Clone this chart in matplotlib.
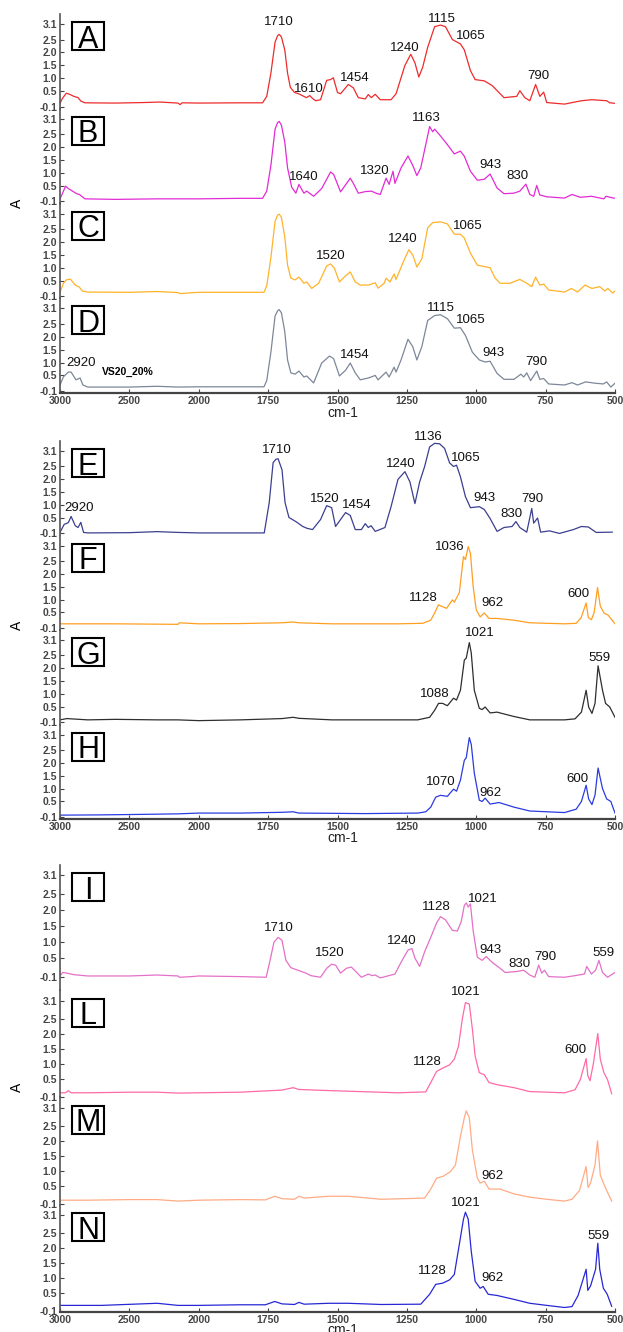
import numpy as np
import matplotlib
matplotlib.use('Agg')
import matplotlib.pyplot as plt
from matplotlib.patches import Rectangle

plt.rcParams['font.family'] = ['Liberation Sans', 'DejaVu Sans']

# (wavenumber cm-1, absorbance)
A_spec = [(3000, 0.02), (2985, 0.2), (2955, 0.42), (2930, 0.38), (2900, 0.3), (2870, 0.25), (2850, 0.12),
          (2820, 0.05), (2600, 0.04), (2400, 0.06), (2280, 0.08), (2150, 0.04), (2135, -0.02), (2120, 0.05),
          (2000, 0.04), (1850, 0.05), (1770, 0.05), (1755, 0.3), (1740, 1.2), (1725, 2.4), (1716, 2.65),
          (1710, 2.7), (1702, 2.6), (1690, 2.1), (1680, 1.2), (1670, 0.65), (1655, 0.45), (1640, 0.4),
          (1625, 0.32), (1612, 0.25), (1600, 0.33), (1590, 0.22), (1579, 0.13), (1561, 0.17), (1539, 0.92),
          (1525, 0.95), (1515, 1.02), (1500, 0.45), (1489, 0.4), (1461, 0.76), (1443, 0.63), (1425, 0.25),
          (1400, 0.2), (1389, 0.37), (1378, 0.25), (1364, 0.38), (1346, 0.17), (1307, 0.17), (1289, 0.4),
          (1257, 1.5), (1236, 1.93), (1221, 1.6), (1207, 1.05), (1193, 1.43), (1175, 2.2), (1150, 3.0),
          (1129, 3.06), (1111, 3.0), (1086, 2.5), (1057, 2.33), (1043, 2.1), (1021, 1.3), (1004, 0.95),
          (971, 0.9), (943, 0.72), (900, 0.25), (854, 0.3), (843, 0.52), (825, 0.25), (807, 0.13),
          (786, 0.76), (771, 0.3), (757, 0.46), (746, 0.06), (682, 0.0), (621, 0.13), (583, 0.17),
          (530, 0.13), (519, 0.05), (500, 0.03)]
B_spec = [(3000, 0.0), (2975, 0.3), (2960, 0.49), (2940, 0.4), (2910, 0.3), (2880, 0.2), (2860, 0.17),
          (2820, 0.0), (2600, -0.02), (2300, 0.0), (2150, 0.0), (2000, 0.0), (1850, 0.02), (1770, 0.02),
          (1755, 0.3), (1740, 1.3), (1725, 2.7), (1716, 2.95), (1710, 3.0), (1702, 2.85), (1690, 2.2),
          (1680, 1.2), (1665, 0.45), (1650, 0.22), (1639, 0.56), (1621, 0.22), (1611, 0.3), (1586, 0.1),
          (1557, 0.4), (1525, 1.04), (1514, 0.95), (1489, 0.27), (1454, 0.8), (1443, 0.6), (1425, 0.22),
          (1400, 0.28), (1378, 0.3), (1361, 0.22), (1346, 0.17), (1325, 0.8), (1314, 0.56), (1300, 1.07),
          (1293, 0.6), (1271, 1.2), (1246, 1.66), (1229, 1.3), (1214, 0.9), (1200, 1.2), (1182, 2.1),
          (1168, 2.8), (1157, 2.6), (1150, 2.7), (1129, 2.44), (1104, 2.1), (1079, 1.74), (1057, 1.85),
          (1043, 1.65), (1021, 1.07), (996, 0.72), (971, 0.76), (950, 0.96), (925, 0.42), (900, 0.2),
          (864, 0.22), (843, 0.3), (821, 0.57), (807, 0.17), (793, 0.1), (782, 0.52), (771, 0.15),
          (746, 0.08), (682, 0.03), (655, 0.17), (625, 0.06), (585, 0.1), (540, 0.0), (533, 0.1),
          (505, 0.03), (500, 0.03)]
C_spec = [(3000, 0.05), (2975, 0.4), (2955, 0.53), (2925, 0.56), (2890, 0.33), (2860, 0.25), (2840, 0.1),
          (2800, 0.06), (2500, 0.05), (2300, 0.08), (2150, 0.04), (2135, 0.0), (2000, 0.05), (1850, 0.05),
          (1765, 0.05), (1755, 0.3), (1740, 1.4), (1725, 2.8), (1716, 3.04), (1710, 3.08), (1702, 2.95),
          (1690, 2.2), (1680, 1.1), (1668, 0.6), (1653, 0.53), (1639, 0.64), (1621, 0.4), (1611, 0.45),
          (1593, 0.2), (1568, 0.4), (1539, 1.07), (1525, 1.15), (1511, 0.98), (1493, 0.45), (1475, 0.65),
          (1454, 0.84), (1436, 0.45), (1418, 0.33), (1389, 0.33), (1364, 0.42), (1354, 0.21), (1332, 0.4),
          (1325, 0.6), (1311, 0.45), (1296, 0.76), (1289, 0.55), (1264, 1.2), (1243, 1.7), (1229, 1.5),
          (1214, 1.03), (1196, 1.35), (1175, 2.55), (1157, 2.75), (1129, 2.78), (1104, 2.7), (1079, 2.3),
          (1057, 2.3), (1043, 2.15), (1021, 1.57), (996, 1.1), (971, 1.05), (950, 1.0), (932, 0.6),
          (914, 0.4), (879, 0.4), (843, 0.55), (818, 0.4), (800, 0.27), (786, 0.64), (771, 0.33),
          (757, 0.37), (739, 0.14), (682, 0.06), (657, 0.2), (635, 0.06), (608, 0.33), (583, 0.2),
          (555, 0.27), (537, 0.1), (526, 0.2), (508, 0.02), (500, 0.1)]
D_spec = [(3000, 0.13), (2975, 0.45), (2940, 0.63), (2920, 0.63), (2885, 0.33), (2855, 0.4), (2835, 0.13),
          (2800, 0.05), (2500, 0.05), (2300, 0.08), (2150, 0.05), (2000, 0.06), (1850, 0.06), (1765, 0.06),
          (1755, 0.3), (1740, 1.4), (1725, 2.8), (1716, 3.0), (1710, 3.05), (1702, 2.92), (1690, 2.2),
          (1680, 1.1), (1668, 0.6), (1653, 0.55), (1639, 0.67), (1621, 0.44), (1611, 0.48), (1586, 0.21),
          (1557, 0.98), (1529, 1.25), (1514, 1.15), (1493, 0.48), (1471, 0.7), (1454, 0.98), (1436, 0.6),
          (1418, 0.33), (1389, 0.4), (1364, 0.5), (1354, 0.33), (1325, 0.63), (1314, 0.44), (1296, 0.82),
          (1289, 0.63), (1271, 1.1), (1246, 1.9), (1229, 1.62), (1214, 1.1), (1196, 1.62), (1175, 2.63),
          (1150, 2.82), (1129, 2.85), (1104, 2.7), (1079, 2.33), (1057, 2.35), (1039, 2.05), (1014, 1.4),
          (989, 1.1), (968, 1.02), (950, 1.05), (925, 0.58), (900, 0.35), (864, 0.35), (839, 0.55),
          (829, 0.44), (818, 0.6), (804, 0.3), (782, 0.67), (771, 0.35), (757, 0.38), (739, 0.17),
          (682, 0.13), (655, 0.22), (635, 0.13), (606, 0.25), (572, 0.2), (542, 0.17), (530, 0.25),
          (515, 0.05), (500, 0.2)]
E_spec = [(3000, -0.06), (2970, 0.25), (2940, 0.32), (2920, 0.56), (2890, 0.2), (2870, 0.13), (2850, 0.33),
          (2830, -0.06), (2800, -0.08), (2500, -0.07), (2300, -0.03), (2150, -0.06), (2000, -0.08),
          (1850, -0.08), (1764, -0.08), (1746, 1.1), (1732, 2.65), (1722, 2.78), (1714, 2.8), (1700, 2.37),
          (1689, 1.1), (1675, 0.52), (1650, 0.36), (1625, 0.17), (1610, 0.1), (1590, 0.05), (1561, 0.44),
          (1539, 0.98), (1521, 0.9), (1507, 0.17), (1489, 0.44), (1471, 0.71), (1454, 0.6), (1436, 0.05),
          (1414, 0.05), (1400, 0.28), (1389, 0.13), (1379, 0.2), (1364, -0.02), (1329, 0.13), (1307, 0.94),
          (1282, 2.0), (1257, 2.3), (1239, 1.9), (1221, 1.06), (1204, 1.9), (1186, 2.5), (1168, 3.26),
          (1150, 3.4), (1132, 3.38), (1114, 3.2), (1096, 2.64), (1082, 2.5), (1071, 2.55), (1057, 2.1),
          (1039, 1.33), (1021, 0.9), (989, 0.94), (971, 0.83), (950, 0.48), (925, -0.02), (900, 0.13),
          (871, 0.17), (857, 0.36), (843, 0.13), (818, -0.05), (800, 0.87), (793, 0.3), (779, 0.5),
          (768, -0.05), (736, 0.0), (700, -0.1), (650, 0.05), (621, 0.17), (596, 0.15), (568, -0.06),
          (510, -0.05)]
F_spec = [(3000, 0.06), (2600, 0.06), (2150, 0.04), (2140, 0.1), (2000, 0.06), (1850, 0.07), (1700, 0.1),
          (1660, 0.13), (1639, 0.1), (1521, 0.06), (1282, 0.06), (1193, 0.08), (1164, 0.2), (1150, 0.48),
          (1136, 0.8), (1125, 0.74), (1107, 0.66), (1086, 0.99), (1079, 0.9), (1061, 1.27), (1046, 2.67),
          (1039, 2.55), (1029, 3.06), (1021, 2.8), (1011, 1.5), (1000, 0.6), (986, 0.33), (971, 0.48),
          (954, 0.27), (925, 0.27), (864, 0.2), (807, 0.1), (682, 0.06), (640, 0.08), (622, 0.3),
          (604, 0.87), (596, 0.3), (585, 0.22), (575, 0.5), (563, 1.47), (553, 0.75), (540, 0.48),
          (525, 0.4), (500, 0.06)]
G_spec = [(3000, 0.0), (2950, 0.05), (2800, 0.0), (2600, 0.02), (2300, 0.0), (2150, 0.0), (2000, -0.03),
          (1850, 0.0), (1700, 0.05), (1660, 0.1), (1639, 0.06), (1521, 0.0), (1211, 0.0), (1168, 0.1),
          (1150, 0.37), (1136, 0.64), (1121, 0.64), (1104, 0.55), (1082, 0.84), (1071, 0.77), (1057, 1.15),
          (1043, 2.32), (1036, 2.4), (1025, 3.0), (1018, 2.6), (1007, 1.15), (989, 0.45), (979, 0.4),
          (968, 0.5), (950, 0.27), (925, 0.3), (864, 0.13), (807, 0.0), (682, 0.0), (644, 0.04),
          (621, 0.3), (604, 1.15), (595, 0.5), (583, 0.25), (572, 0.64), (561, 2.1), (545, 1.15),
          (534, 0.64), (519, 0.5), (500, 0.1)]
H_spec = [(3000, -0.03), (2700, -0.02), (2400, 0.0), (2150, 0.02), (2000, 0.05), (1850, 0.05), (1700, 0.08),
          (1660, 0.1), (1639, 0.05), (1400, 0.03), (1211, 0.05), (1182, 0.1), (1164, 0.28), (1146, 0.67),
          (1129, 0.74), (1104, 0.7), (1082, 0.98), (1071, 0.9), (1057, 1.33), (1043, 2.1), (1036, 2.2),
          (1025, 2.98), (1018, 2.72), (1007, 1.6), (989, 0.55), (979, 0.5), (968, 0.63), (950, 0.4),
          (918, 0.46), (864, 0.28), (807, 0.13), (682, 0.07), (640, 0.2), (621, 0.5), (604, 1.13),
          (595, 0.6), (583, 0.38), (572, 0.75), (561, 1.8), (545, 1.0), (530, 0.6), (515, 0.5), (500, 0.05)]
I_spec = [(3000, -0.05), (2980, 0.05), (2950, 0.03), (2900, -0.02), (2800, -0.06), (2500, -0.06),
          (2300, -0.03), (2150, -0.06), (2140, -0.1), (2050, -0.08), (2000, -0.06), (1850, -0.08),
          (1757, -0.1), (1743, 0.43), (1729, 1.0), (1714, 1.15), (1700, 1.06), (1686, 0.43), (1668, 0.2),
          (1643, 0.12), (1614, 0.03), (1596, -0.05), (1561, -0.1), (1539, 0.18), (1521, 0.31), (1507, 0.28),
          (1489, 0.03), (1468, 0.18), (1450, 0.22), (1432, 0.06), (1414, -0.1), (1389, 0.0), (1375, -0.05),
          (1364, -0.03), (1346, -0.12), (1293, 0.0), (1271, 0.37), (1246, 0.75), (1232, 0.8), (1221, 0.5),
          (1204, 0.24), (1186, 0.7), (1164, 1.15), (1143, 1.6), (1129, 1.8), (1111, 1.7), (1086, 1.37),
          (1068, 1.35), (1054, 1.65), (1043, 2.15), (1036, 2.23), (1029, 2.1), (1021, 2.2), (1011, 1.35),
          (996, 0.53), (979, 0.43), (964, 0.55), (943, 0.37), (914, 0.18), (896, 0.05), (854, 0.08),
          (829, 0.12), (807, -0.03), (789, -0.1), (775, 0.28), (764, 0.03), (754, 0.12), (739, -0.08),
          (682, -0.1), (644, -0.05), (610, 0.0), (602, 0.24), (585, 0.0), (570, 0.12), (558, 0.43),
          (545, 0.05), (527, -0.1), (500, 0.05)]
L_spec = [(3000, 0.03), (2960, 0.03), (2940, 0.1), (2920, 0.03), (2800, 0.03), (2500, 0.05), (2300, 0.05),
          (2150, 0.02), (2000, 0.03), (1850, 0.05), (1700, 0.12), (1660, 0.2), (1639, 0.14), (1521, 0.1),
          (1282, 0.03), (1182, 0.06), (1164, 0.37), (1143, 0.74), (1121, 0.85), (1096, 0.96), (1079, 1.15),
          (1064, 1.58), (1050, 2.5), (1039, 3.03), (1025, 2.98), (1014, 2.15), (1004, 1.25), (989, 0.7),
          (971, 0.63), (954, 0.37), (925, 0.3), (864, 0.2), (807, 0.07), (682, 0.03), (644, 0.13),
          (625, 0.47), (604, 1.17), (598, 0.6), (590, 0.43), (578, 1.0), (562, 2.0), (553, 1.15),
          (540, 0.7), (527, 0.47), (512, 0.0)]
M_spec = [(3000, 0.03), (2800, 0.03), (2500, 0.05), (2300, 0.05), (2150, 0.0), (2000, 0.03), (1850, 0.05),
          (1760, 0.04), (1726, 0.16), (1700, 0.08), (1655, 0.06), (1639, 0.16), (1620, 0.1), (1532, 0.16),
          (1461, 0.16), (1343, 0.06), (1186, 0.1), (1164, 0.4), (1143, 0.76), (1118, 0.83), (1093, 0.98),
          (1075, 1.2), (1057, 2.15), (1043, 2.77), (1036, 3.0), (1025, 2.77), (1014, 1.7), (996, 0.76),
          (986, 0.6), (971, 0.66), (954, 0.4), (914, 0.4), (864, 0.24), (807, 0.13), (746, 0.06),
          (682, 0.0), (655, 0.06), (628, 0.35), (604, 1.15), (597, 0.45), (588, 0.6), (572, 1.2),
          (563, 2.0), (553, 0.86), (535, 0.45), (512, 0.0)]
N_spec = [(3000, 0.1), (2700, 0.1), (2300, 0.17), (2150, 0.1), (2000, 0.1), (1850, 0.12), (1760, 0.12),
          (1726, 0.23), (1700, 0.15), (1655, 0.13), (1639, 0.2), (1620, 0.14), (1532, 0.17), (1461, 0.17),
          (1343, 0.13), (1200, 0.14), (1168, 0.47), (1146, 0.8), (1121, 0.84), (1096, 0.95), (1079, 1.13),
          (1061, 2.13), (1046, 2.97), (1039, 3.2), (1029, 2.97), (1018, 1.9), (1004, 0.9), (986, 0.67),
          (975, 0.73), (957, 0.47), (925, 0.43), (864, 0.3), (807, 0.17), (746, 0.1), (682, 0.03),
          (655, 0.06), (633, 0.43), (604, 1.3), (598, 0.6), (588, 0.75), (570, 1.3), (562, 2.17),
          (555, 1.3), (542, 0.67), (528, 0.47), (512, 0.07)]

# peak labels: (text, wavenumber, absorbance of label centre)
A_lab = [("1710", 1710, 3.18), ("1610", 1604, 0.6), ("1454", 1436, 1.03), ("1240", 1257, 2.17),
         ("1115", 1125, 3.3), ("1065", 1021, 2.63), ("790", 775, 1.1)]
B_lab = [("1640", 1621, 0.84), ("1320", 1364, 1.07), ("1163", 1179, 3.14), ("943", 950, 1.3), ("830", 850, 0.9)]
C_lab = [("1520", 1525, 1.46), ("1240", 1264, 2.13), ("1065", 1032, 2.6)]
D_lab = [("2920", 2848, 0.98), ("1454", 1436, 1.28), ("1115", 1129, 3.1), ("1065", 1021, 2.63),
         ("943", 939, 1.36), ("790", 782, 1.02)]
E_lab = [("2920", 2862, 0.9), ("1710", 1718, 3.15), ("1520", 1546, 1.25), ("1454", 1429, 1.02),
         ("1240", 1271, 2.6), ("1136", 1171, 3.65), ("1065", 1039, 2.83), ("943", 971, 1.29),
         ("830", 875, 0.67), ("790", 796, 1.25)]
F_lab = [("1036", 1096, 3.03), ("1128", 1189, 1.07), ("962", 943, 0.88), ("600", 633, 1.23)]
G_lab = [("1021", 986, 3.38), ("1088", 1150, 1.0), ("559", 557, 2.4)]
H_lab = [("1070", 1129, 1.25), ("962", 950, 0.82), ("600", 636, 1.36)]
I_lab = [("1710", 1711, 1.44), ("1520", 1529, 0.65), ("1240", 1268, 1.03), ("1128", 1143, 2.1),
         ("1021", 975, 2.35), ("943", 950, 0.75), ("830", 846, 0.31), ("790", 750, 0.53), ("559", 542, 0.65)]
L_lab = [("1021", 1039, 3.37), ("1128", 1175, 1.05), ("600", 644, 1.45)]
M_lab = [("962", 943, 0.82)]
N_lab = [("1021", 1039, 3.5), ("1128", 1157, 1.23), ("962", 943, 1.0), ("559", 561, 2.4)]

xticks = [3000, 2500, 2000, 1750, 1500, 1250, 1000, 750, 500]
yticks = [-0.1, 0.5, 1.0, 1.5, 2.0, 2.5, 3.1]
yticklabels = ['-0.1', '0.5', '1.0', '1.5', '2.0', '2.5', '3.1']

W_PX, H_PX = 623, 1332
LEFT, RIGHT = 60, 615
fig = plt.figure(figsize=(W_PX / 100, H_PX / 100), dpi=100)


# above 2000 cm-1 the axis runs at half scale
def fwd(x):
    x = np.asarray(x, dtype=float)
    return np.where(x > 2000, 2000 + (x - 2000) * 0.5, x)


def inv(u):
    u = np.asarray(u, dtype=float)
    return np.where(u > 2000, 2000 + (u - 2000) * 2.0, u)


YL1 = (-0.18, 3.49)
YL3 = (-0.12, 3.45)
panels = [
    # letter, data, colour, labels, top px, bottom px, ylim, bottom of group
    ('A', A_spec, '#ef2b2b', A_lab, 14, 108.75, YL1, False),
    ('B', B_spec, '#e22bd6', B_lab, 108.75, 203.5, YL1, False),
    ('C', C_spec, '#ffb32b', C_lab, 203.5, 298.25, YL1, False),
    ('D', D_spec, '#7d8798', D_lab, 298.25, 393, YL1, True),
    ('E', E_spec, '#3b3f8f', E_lab, 441, 535.5, YL1, False),
    ('F', F_spec, '#ff9f22', F_lab, 535.5, 630, YL1, False),
    ('G', G_spec, '#2e2e2e', G_lab, 630, 724.5, YL1, False),
    ('H', H_spec, '#2a3be0', H_lab, 724.5, 819, YL1, True),
    ('I', I_spec, '#e470c8', I_lab, 865, 990, (-0.5, 3.42), False),
    ('L', L_spec, '#ff6aa6', L_lab, 990, 1097.3, YL3, False),
    ('M', M_spec, '#ffab85', M_lab, 1097.3, 1204.7, YL3, False),
    ('N', N_spec, '#2727d6', N_lab, 1204.7, 1312, YL3, True),
]

for letter, spec, col, labs, top, bot, ylim, last in panels:
    ax = fig.add_axes([LEFT / W_PX, 1 - bot / H_PX, (RIGHT - LEFT) / W_PX, (bot - top) / H_PX])
    ax.patch.set_alpha(0)
    wn, ab = zip(*spec)
    ax.plot(wn, ab, color=col, lw=0.9)
    ax.set_xscale('function', functions=(fwd, inv))
    ax.set_xlim(3000, 500)
    ax.set_ylim(*ylim)
    ax.set_yticks(yticks)
    ax.set_yticklabels(yticklabels, fontweight='bold', fontsize=7.5, color='#222222')
    ax.tick_params(axis='y', direction='in', length=3, width=0.8, pad=2, colors='#444444')
    for s in ['top', 'right']:
        ax.spines[s].set_visible(False)
    ax.spines['left'].set_color('#555555')
    ax.spines['left'].set_linewidth(1.2)
    if last:
        ax.spines['bottom'].set_color('#444444')
        ax.spines['bottom'].set_linewidth(1.6)
        ax.set_xticks(xticks)
        ax.set_xticklabels([str(t) for t in xticks], fontweight='bold', fontsize=7.5, color='#222222')
        ax.tick_params(axis='x', direction='in', length=3, width=0.8, pad=2.5, colors='#444444')
    else:
        ax.spines['bottom'].set_visible(False)
        ax.set_xticks([])
    for s, x, y in labs:
        ax.text(x, y, s, ha='center', va='center', fontsize=9.5, color='#111111')

    # boxed panel letter
    ph = bot - top
    y31 = (3.1 - ylim[0]) / (ylim[1] - ylim[0])
    btop = y31 + 2 / ph
    bh = 28 / ph
    ax.add_patch(Rectangle(((72 - LEFT) / 555, btop - bh), 32 / 555, bh, transform=ax.transAxes,
                           fill=False, ec='black', lw=1.5, clip_on=False))
    ax.text((88 - LEFT) / 555, btop - bh + 2.5 / ph, letter, transform=ax.transAxes,
            ha='center', va='baseline', fontsize=22, color='black')
    if letter == 'D':
        ax.text(2514, 0.63, 'VS20_20%', ha='center', va='center', fontsize=7.5, fontweight='bold')

for yc in [203, 625, 1087]:
    fig.text(17 / W_PX, 1 - yc / H_PX, 'A', rotation=90, ha='center', va='center', fontsize=10)
for yc in [413, 838, 1330]:
    fig.text(343 / W_PX, 1 - yc / H_PX, 'cm-1', ha='center', va='center', fontsize=10, color='#222222')

fig.savefig('out.png', dpi=100)
